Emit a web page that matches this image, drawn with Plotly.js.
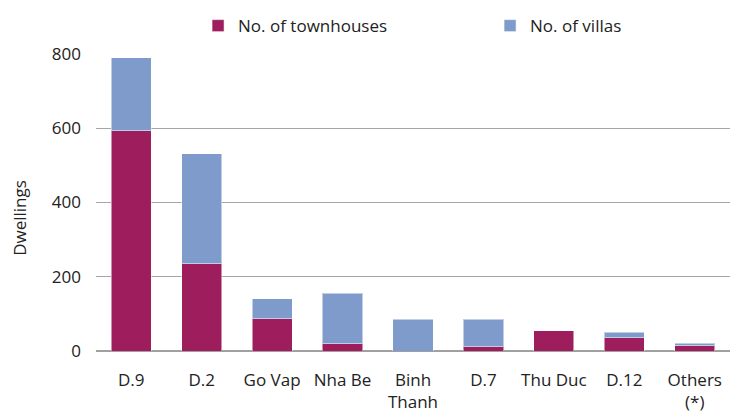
<!DOCTYPE html>
<html>
<head>
<meta charset="utf-8">
<script src="https://cdn.plot.ly/plotly-3.0.1.min.js"></script>
<style>html,body{margin:0;padding:0;background:#fff;}#chart{width:736px;height:414px;}</style>
</head>
<body>
<div id="chart"></div>
<script>
const categories = ["D.9", "D.2", "Go Vap", "Nha Be", "Binh<br>Thanh", "D.7", "Thu Duc", "D.12", "Others<br>(*)"];
const townhouses = [593, 235, 87, 19, 0, 12, 55, 36, 14];
const villas = [197, 296, 54, 136, 86, 73, 0, 15, 7];
const seriesNames = ["No. of townhouses", "No. of villas"];
const yTicks = [0, 200, 400, 600, 800];
const yTitle = "Dwellings";

const font = "Open Sans, Noto Sans, sans-serif";
const traces = [
  {type: "bar", name: seriesNames[0], x: categories, y: townhouses,
   marker: {color: "#9E1D5C", line: {color: "rgba(255,255,255,0.5)", width: 1}}},
  {type: "bar", name: seriesNames[1], x: categories, y: villas,
   marker: {color: "#7F9BCB", line: {color: "rgba(255,255,255,0.5)", width: 1}}}
];
const layout = {
  width: 736, height: 414,
  margin: {l: 96, r: 6, t: 54, b: 63, autoexpand: false},
  barmode: "stack",
  bargap: 0.43,
  paper_bgcolor: "#fff", plot_bgcolor: "#fff",
  font: {family: font, size: 17, color: "#222"},
  showlegend: true,
  legend: {orientation: "h", x: 0.161, xanchor: "left", y: 1.094, yanchor: "middle",
           entrywidth: 247, entrywidthmode: "pixels", font: {size: 17, color: "#222"},
           traceorder: "normal"},
  xaxis: {type: "category", showgrid: false, zeroline: false, showline: false,
          ticks: "", ticklabelstandoff: 17, tickfont: {size: 17, color: "#222"}, fixedrange: true},
  yaxis: {range: [0, 800], tickvals: yTicks, showgrid: true, gridcolor: "#A6A6A6", gridwidth: 1,
          zeroline: true, zerolinecolor: "#A0A0A0", zerolinewidth: 1.5, showline: false, ticks: "",
          ticklabelstandoff: 14, tickfont: {size: 17, color: "#222"}},
  annotations: [{text: yTitle, textangle: -90, xref: "paper", yref: "paper",
                 x: -0.12, xanchor: "center", y: 0.448, yanchor: "middle", showarrow: false,
                 font: {size: 17, color: "#222"}}]
};
Plotly.newPlot("chart", traces, layout, {displayModeBar: false, staticPlot: true});
</script>
</body>
</html>
